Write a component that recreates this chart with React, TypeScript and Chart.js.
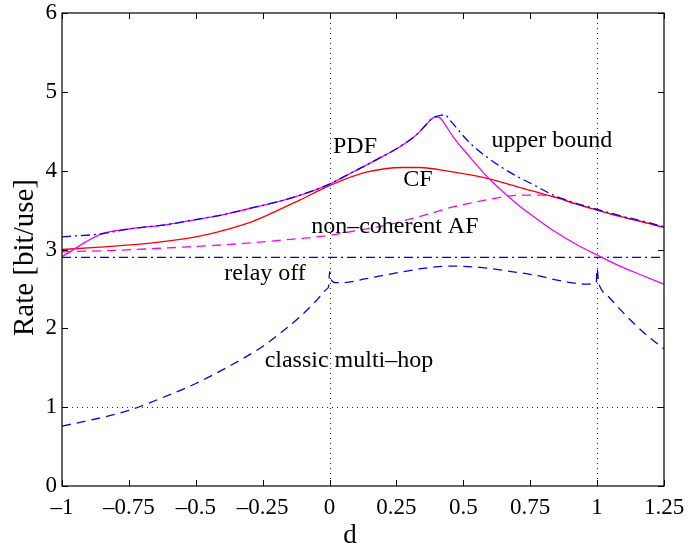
import React, { useEffect, useRef } from "react";
import { Chart, registerables } from "chart.js";

Chart.register(...registerables);

const WIDTH = 689;
const HEIGHT = 547;
const SERIF = "'Liberation Serif', 'Times New Roman', serif";

// Axis ranges and ticks
const dMin = -1;
const dMax = 1.25;
const dStep = 0.25;
const rateMin = 0;
const rateMax = 6;
const rateStep = 1;

// Dotted reference lines
const gridD = [0, 1];
const gridRate = [1];

// upper bound (blue dash-dot)
const upperD = [-1, -0.85, -0.75, -0.6, -0.5, -0.4, -0.3, -0.2, -0.1, 0, 0.08, 0.176, 0.261, 0.323, 0.36, 0.386, 0.415, 0.431, 0.45, 0.525, 0.649, 0.774, 0.836, 0.9, 1.0, 1.085, 1.17, 1.25];
const upperRate = [3.16, 3.2, 3.26, 3.32, 3.38, 3.44, 3.52, 3.6, 3.7, 3.83, 3.97, 4.14, 4.3, 4.45, 4.58, 4.67, 4.7, 4.71, 4.64, 4.35, 4.03, 3.8, 3.69, 3.61, 3.51, 3.43, 3.36, 3.29];

// PDF (magenta solid)
const pdfD = [-1, -0.85, -0.75, -0.6, -0.5, -0.4, -0.3, -0.2, -0.1, 0, 0.08, 0.176, 0.261, 0.323, 0.36, 0.386, 0.4, 0.413, 0.425, 0.462, 0.525, 0.593, 0.649, 0.711, 0.77, 0.836, 0.92, 1.0, 1.085, 1.17, 1.25];
const pdfRate = [2.91, 3.2, 3.26, 3.32, 3.38, 3.44, 3.52, 3.6, 3.7, 3.83, 3.97, 4.14, 4.3, 4.45, 4.58, 4.67, 4.68, 4.67, 4.62, 4.43, 4.17, 3.91, 3.73, 3.55, 3.4, 3.24, 3.07, 2.93, 2.79, 2.67, 2.56];

// CF (red solid)
const cfD = [-1, -0.86, -0.67, -0.5, -0.42, -0.3, -0.236, -0.11, 0, 0.137, 0.274, 0.338, 0.448, 0.593, 0.72, 0.836, 0.92, 1.0, 1.085, 1.17, 1.25];
const cfRate = [3.0, 3.03, 3.08, 3.16, 3.22, 3.34, 3.43, 3.63, 3.81, 3.98, 4.04, 4.04, 3.99, 3.9, 3.78, 3.67, 3.58, 3.5, 3.42, 3.35, 3.28];

// non-coherent AF (magenta dashed)
const afD = [-1, -0.8, -0.55, -0.35, -0.174, 0, 0.1, 0.2, 0.338, 0.462, 0.587, 0.674, 0.749, 0.8, 0.836, 0.92, 1.0, 1.085, 1.17, 1.25];
const afRate = [2.97, 2.99, 3.03, 3.07, 3.12, 3.18, 3.24, 3.3, 3.42, 3.54, 3.63, 3.68, 3.69, 3.69, 3.67, 3.58, 3.5, 3.42, 3.35, 3.28];

// relay off (blue dash-dot)
const relayD = [-1, 1.25];
const relayRate = [2.9, 2.9];

// classic multi-hop (blue dashed)
const hopD = [-1, -0.875, -0.75, -0.625, -0.5, -0.375, -0.25, -0.18, -0.11, -0.05, -0.01, -0.003, 0, 0.006, 0.02, 0.05, 0.137, 0.261, 0.35, 0.448, 0.572, 0.68, 0.759, 0.883, 0.96, 0.99, 0.997, 1.0, 1.005, 1.015, 1.04, 1.07, 1.1, 1.135, 1.19, 1.25];
const hopRate = [0.76, 0.85, 0.96, 1.12, 1.3, 1.52, 1.77, 1.95, 2.15, 2.35, 2.5, 2.54, 2.72, 2.62, 2.58, 2.58, 2.63, 2.71, 2.76, 2.79, 2.77, 2.72, 2.68, 2.59, 2.56, 2.57, 2.59, 2.76, 2.6, 2.5, 2.41, 2.3, 2.19, 2.07, 1.9, 1.74];

// In-plot curve labels
const labelText = ["PDF", "CF", "upper bound", "non\u2013coherent AF", "relay off", "classic multi\u2013hop"];
const labelD = [0.095, 0.33, 0.831, 0.244, -0.241, 0.0725];
const labelRate = [4.3, 3.89, 4.38, 3.29, 2.69, 1.59];

const xTitle = "d";
const yTitle = "Rate [bit/use]";

const pts = (xs: number[], ys: number[]) => xs.map((x, i) => ({ x, y: ys[i] }));

const fmtTick = (v: number) => (v < 0 ? "\u2013" + String(Math.abs(v)) : String(v));

const frame = {
  id: "frame",
  beforeDatasetsDraw(chart: any) {
    const { ctx, chartArea: a, scales } = chart;
    const x = scales.x;
    const y = scales.y;
    ctx.save();
    ctx.strokeStyle = "#222";
    ctx.lineWidth = 1;
    ctx.setLineDash([1, 4]);
    for (const v of gridD) {
      const px = Math.round(x.getPixelForValue(v)) + 0.5;
      ctx.beginPath();
      ctx.moveTo(px, a.top);
      ctx.lineTo(px, a.bottom);
      ctx.stroke();
    }
    for (const v of gridRate) {
      const py = Math.round(y.getPixelForValue(v)) + 0.5;
      ctx.beginPath();
      ctx.moveTo(a.left, py);
      ctx.lineTo(a.right, py);
      ctx.stroke();
    }
    ctx.restore();
  },
  afterDatasetsDraw(chart: any) {
    const { ctx, chartArea: a, scales } = chart;
    const x = scales.x;
    const y = scales.y;
    const tick = 6;
    ctx.save();
    ctx.strokeStyle = "#000";
    ctx.lineWidth = 1.2;
    ctx.setLineDash([]);
    ctx.strokeRect(a.left, a.top, a.right - a.left, a.bottom - a.top);
    ctx.lineWidth = 1;
    ctx.beginPath();
    for (const t of x.ticks) {
      const px = Math.round(x.getPixelForValue(t.value)) + 0.5;
      ctx.moveTo(px, a.bottom);
      ctx.lineTo(px, a.bottom - tick);
      ctx.moveTo(px, a.top);
      ctx.lineTo(px, a.top + tick);
    }
    for (const t of y.ticks) {
      const py = Math.round(y.getPixelForValue(t.value)) + 0.5;
      ctx.moveTo(a.left, py);
      ctx.lineTo(a.left + tick, py);
      ctx.moveTo(a.right, py);
      ctx.lineTo(a.right - tick, py);
    }
    ctx.stroke();

    // curve labels
    ctx.fillStyle = "#000";
    ctx.font = `24px ${SERIF}`;
    ctx.textAlign = "center";
    ctx.textBaseline = "middle";
    labelText.forEach((txt, i) => {
      ctx.fillText(txt, x.getPixelForValue(labelD[i]), y.getPixelForValue(labelRate[i]));
    });

    // axis titles
    ctx.font = `27px ${SERIF}`;
    ctx.textBaseline = "alphabetic";
    ctx.fillText(xTitle, 350, 543);
    ctx.save();
    ctx.translate(25, (a.top + a.bottom) / 2 + 8);
    ctx.rotate(-Math.PI / 2);
    ctx.font = `29px ${SERIF}`;
    ctx.textBaseline = "middle";
    ctx.fillText(yTitle, 0, 0);
    ctx.restore();
    ctx.restore();
  },
};

export default function App() {
  const ref = useRef<HTMLCanvasElement | null>(null);

  useEffect(() => {
    if (!ref.current) return;
    const line = (label: string, xs: number[], ys: number[], color: string, dash: number[]) => ({
      label,
      data: pts(xs, ys),
      borderColor: color,
      backgroundColor: color,
      borderWidth: 1.3,
      borderDash: dash,
      pointRadius: 0,
      fill: false,
      cubicInterpolationMode: "monotone" as const,
    });
    const chart = new Chart(ref.current, {
      type: "line",
      data: {
        datasets: [
          line("upper bound", upperD, upperRate, "#0000ff", [9, 4, 2, 4]),
          line("PDF", pdfD, pdfRate, "#ff00ff", []),
          line("CF", cfD, cfRate, "#ff0000", []),
          line("non-coherent AF", afD, afRate, "#ff00ff", [9, 6]),
          line("relay off", relayD, relayRate, "#0000ff", [9, 4, 2, 4]),
          line("classic multi-hop", hopD, hopRate, "#0000ff", [9, 6]),
        ],
      },
      options: {
        responsive: false,
        animation: false,
        events: [],
        layout: { padding: { top: 13, right: 25, left: 0, bottom: 0 } },
        plugins: { legend: { display: false }, tooltip: { enabled: false }, title: { display: false } },
        scales: {
          x: {
            type: "linear",
            min: dMin,
            max: dMax,
            grid: { display: false, drawTicks: false },
            border: { display: false },
            ticks: {
              stepSize: dStep,
              autoSkip: false,
              maxRotation: 0,
              padding: 8,
              color: "#000",
              font: { family: SERIF, size: 23 },
              callback: (v: any) => fmtTick(Number(v)),
            },
            afterFit: (s: any) => {
              s.height = 61;
              s.paddingLeft = 0;
              s.paddingRight = 0;
            },
          },
          y: {
            type: "linear",
            min: rateMin,
            max: rateMax,
            grid: { display: false, drawTicks: false },
            border: { display: false },
            ticks: {
              stepSize: rateStep,
              padding: 5,
              color: "#000",
              font: { family: SERIF, size: 23 },
              callback: (v: any) => fmtTick(Number(v)),
            },
            afterFit: (s: any) => {
              s.width = 62;
              s.paddingTop = 0;
              s.paddingBottom = 0;
            },
          },
        },
      },
      plugins: [frame],
    });
    return () => chart.destroy();
  }, []);

  return (
    <div style={{ position: "fixed", left: 0, top: 0, width: WIDTH, height: HEIGHT, background: "#fff" }}>
      <canvas ref={ref} width={WIDTH} height={HEIGHT} style={{ display: "block" }} />
    </div>
  );
}
